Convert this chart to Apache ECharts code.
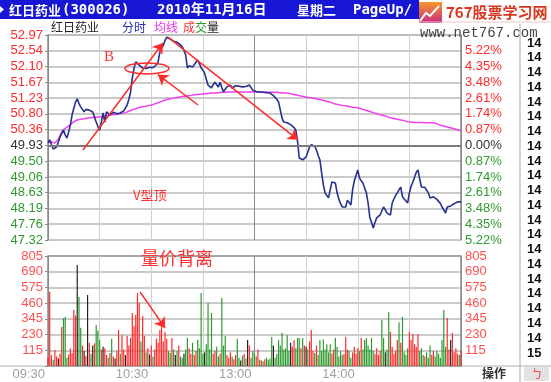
<!DOCTYPE html>
<html><head><meta charset="utf-8">
<script src="https://cdn.jsdelivr.net/npm/echarts@6/dist/echarts.min.js"></script>
<style>html,body{margin:0;padding:0;background:#fff}#c{width:551px;height:382px}</style>
</head><body><div id="c"></div>
<script>
// ---- data (minute by minute, 09:30 .. 15:00) ----
const price = [
50.00,50.08,49.95,49.83,49.86,49.88,50.02,50.16,50.25,50.35,
50.22,50.13,50.30,50.49,50.77,50.95,51.12,51.21,51.08,50.99,
50.96,50.85,50.92,50.96,50.90,50.88,50.85,50.82,50.57,50.45,
50.35,50.57,50.82,50.57,50.85,50.80,50.77,50.80,50.84,50.82,
50.80,50.83,50.82,50.86,50.88,50.90,51.04,51.20,51.40,51.79,
52.05,52.23,52.28,52.14,52.10,52.06,52.09,52.05,52.06,52.08,
52.09,52.07,52.09,52.15,52.23,52.50,52.60,52.69,52.82,52.91,
52.89,52.86,52.83,52.80,52.78,52.77,52.75,52.70,52.64,52.55,
52.42,52.06,52.12,52.14,52.09,52.15,52.22,52.28,52.18,52.06,
52.00,51.92,51.75,51.59,51.55,51.51,51.60,51.67,51.60,51.54,
51.67,51.52,51.40,51.48,51.54,51.57,51.59,51.51,51.55,51.57,
51.59,51.56,51.55,51.54,51.57,51.55,51.54,51.59,51.52,51.45,
51.42,
51.41,51.40,51.40,51.42,51.39,51.40,51.38,51.38,51.37,
51.33,51.30,51.26,51.20,51.12,50.90,50.68,50.57,50.56,50.55,
50.52,50.50,50.49,50.42,50.35,50.05,49.58,49.55,49.53,49.57,
49.61,49.75,49.88,49.95,49.99,49.90,49.80,49.65,49.53,49.17,
48.85,48.62,48.55,48.48,48.70,48.92,48.90,48.89,48.62,48.45,
48.32,48.23,48.25,48.23,48.42,48.35,48.28,48.70,48.95,49.10,
49.25,49.03,48.95,48.89,48.75,48.62,48.34,47.95,47.80,47.65,
47.80,47.93,47.98,48.01,48.12,48.23,48.15,48.06,48.03,48.01,
48.34,48.45,48.55,48.62,48.70,48.78,48.51,48.45,48.40,48.34,
48.62,48.80,48.92,49.05,49.19,49.25,49.00,48.78,48.76,48.77,
48.75,48.62,48.48,48.50,48.51,48.47,48.44,48.42,48.33,48.23,
48.15,48.06,48.23,48.27,48.26,48.29,48.32,48.35,48.37,48.36,48.37
];
const avgPrice = [
50.00,50.05,50.03,49.99,49.99,50.02,50.10,50.20,50.30,50.36,
50.40,50.43,50.46,50.50,50.55,50.58,50.60,50.63,50.64,50.65,
50.66,50.66,50.67,50.68,50.68,50.69,50.69,50.70,50.70,50.71,
50.71,50.72,50.73,50.74,50.74,50.75,50.76,50.77,50.77,50.78,
50.78,50.79,50.80,50.81,50.82,50.83,50.85,50.87,50.89,50.91,
50.93,50.94,50.96,50.97,50.98,50.99,51.00,51.01,51.02,51.03,
51.04,51.05,51.07,51.09,51.11,51.12,51.14,51.16,51.18,51.19,
51.20,51.21,51.22,51.23,51.24,51.25,51.26,51.27,51.28,51.28,
51.29,51.29,51.30,51.30,51.31,51.32,51.32,51.33,51.33,51.34,
51.34,51.35,51.35,51.36,51.36,51.37,51.37,51.37,51.38,51.38,
51.38,51.39,51.39,51.39,51.39,51.40,51.40,51.40,51.40,51.40,
51.40,51.40,51.40,51.40,51.40,51.40,51.40,51.40,51.40,51.40,
51.40,51.40,51.40,51.40,51.40,51.40,51.40,51.40,51.40,51.39,
51.39,51.39,51.39,51.39,51.38,51.38,51.38,51.37,51.37,51.37,
51.36,51.35,51.34,51.33,51.32,51.31,51.30,51.29,51.28,51.27,
51.26,51.25,51.24,51.24,51.23,51.22,51.21,51.20,51.19,51.18,
51.18,51.16,51.15,51.13,51.12,51.10,51.09,51.07,51.06,51.05,
51.04,51.03,51.03,51.02,51.01,51.00,50.99,50.98,50.98,50.97,
50.96,50.95,50.93,50.92,50.90,50.89,50.88,50.86,50.85,50.83,
50.82,50.80,50.79,50.77,50.76,50.75,50.73,50.72,50.70,50.69,
50.68,50.67,50.66,50.65,50.64,50.63,50.62,50.61,50.60,50.58,
50.57,50.57,50.57,50.56,50.56,50.56,50.56,50.56,50.55,50.55,
50.55,50.55,50.55,50.55,50.55,50.54,50.52,50.50,50.48,50.47,
50.46,50.45,50.44,50.42,50.41,50.40,50.39,50.37,50.35,50.34,50.33
];
const volume = [
60,544,80,45,117,70,55,90,285,351,
359,60,85,130,95,410,370,740,505,280,
150,110,75,520,170,90,150,165,300,260,
190,120,140,130,80,60,95,200,70,55,
110,263,90,225,120,80,220,150,205,388,
290,375,534,461,180,365,220,100,130,85,
150,70,120,200,170,263,290,180,250,200,
110,95,205,120,80,110,150,70,60,90,
120,205,130,90,170,80,110,190,130,534,
90,100,160,461,120,388,90,110,140,70,
90,498,150,220,80,60,100,70,50,80,
200,60,40,75,90,55,190,150,60,110,
95,70,120,45,40,35,50,60,45,55,
212,150,60,90,190,150,242,120,130,225,
110,170,140,190,130,205,205,130,205,150,
140,120,180,263,110,95,150,80,190,110,
195,120,160,100,160,90,120,205,140,70,
110,80,90,212,120,110,60,100,140,90,
130,110,205,120,190,205,150,120,205,110,
90,130,80,110,337,205,100,120,395,250,
140,90,110,190,320,170,359,100,80,130,
250,190,235,160,140,235,110,130,80,70,
100,60,150,80,110,70,110,90,60,190,
410,140,351,120,190,242,100,130,90,80,110
];
// 1 = up (red), -1 = down (green), 0 = unchanged (black)
const volDir = [
1,1,1,-1,1,1,0,1,1,-1,
-1,-1,1,1,1,1,1,0,-1,-1,
1,0,1,0,1,-1,0,1,-1,-1,
-1,1,0,1,1,-1,1,-1,1,0,
1,1,-1,1,1,0,1,1,1,1,
1,1,1,1,-1,1,1,-1,1,0,
1,-1,1,1,1,1,1,1,1,1,
-1,-1,1,-1,0,-1,1,-1,-1,0,
-1,-1,1,1,-1,1,1,-1,-1,-1,
-1,0,-1,-1,-1,-1,1,1,-1,-1,
1,-1,-1,-1,1,1,1,-1,1,1,
-1,-1,0,-1,1,-1,0,1,-1,-1,
-1,1,1,-1,1,-1,1,-1,-1,-1,
-1,0,-1,-1,-1,-1,-1,-1,-1,-1,
-1,0,1,1,-1,-1,-1,1,-1,1,
0,-1,1,1,1,-1,1,-1,-1,-1,
-1,-1,-1,-1,-1,1,1,-1,-1,-1,
-1,-1,1,1,1,-1,-1,1,1,1,
1,-1,1,-1,-1,-1,-1,-1,-1,-1,
1,1,1,1,-1,-1,0,-1,-1,1,
1,1,1,1,-1,1,-1,-1,-1,-1,
1,1,1,1,1,1,-1,-1,-1,1,
-1,-1,-1,1,1,-1,-1,-1,-1,-1,
-1,-1,1,1,0,1,1,1,1,-1,1
];
// tick labels, listed from the bottom tick upwards
const priceTicks = ['47.32','47.76','48.19','48.63','49.06','49.50','49.93','50.36','50.80','51.23','51.67','52.10','52.54','52.97'];
const pctTicks = ['5.22%','4.35%','3.48%','2.61%','1.74%','0.87%','0.00%','0.87%','1.74%','2.61%','3.48%','4.35%','5.22%',''];
const volTicks = ['','115','230','345','460','575','690','805'];
const timeTicks = {0:'09:30',60:'10:30',120:'13:00',180:'14:00'};
const tickColumn = ['14','14','14','14','14','14','14','14','14','14','14','14','14','14','14','14','14','14','14','14','14','15'];
const prevClose = 49.93;

// ---- chart ----
const P_MIN = 47.32, P_MAX = 52.97, P_STEP = (P_MAX - P_MIN) / 13;
const RED = '#ff2b2b', GREEN = '#2f9a2f', DARK = '#333333';
const pIdx = v => Math.round((v - P_MIN) / P_STEP);
const numFont = 'Liberation Sans';

const chart = echarts.init(document.getElementById('c'), null, {renderer: 'canvas'});

const vSplit = ['#8a8a8a','#d0d0d0','#d0d0d0','#d0d0d0','#8a8a8a','#d0d0d0','#d0d0d0','#d0d0d0','#8a8a8a'];
const baseX = {type: 'value', min: 0, max: 240, interval: 30,
  axisTick: {show: false},
  splitLine: {show: true, lineStyle: {color: vSplit, width: 1}}};
const arrowPair = (a, b) => [{coord: a, symbol: 'none'}, {coord: b, symbol: 'arrow', symbolSize: 10}];

const option = {
  animation: false,
  backgroundColor: '#ffffff',
  grid: [
    {left: 48, right: 90, top: 35, height: 205},
    {left: 48, right: 90, top: 256, height: 110}
  ],
  xAxis: [
    Object.assign({}, baseX, {gridIndex: 0, axisLine: {show: false}, axisLabel: {show: false}}),
    Object.assign({}, baseX, {gridIndex: 1, axisLine: {show: true, lineStyle: {color: '#aaaaaa'}},
      axisLabel: {show: true, margin: 2, align: 'right', padding: [0, 3, 0, 0],
        color: '#a0a0a0', fontSize: 13, fontFamily: numFont,
        formatter: v => timeTicks[v] || ''}})
  ],
  yAxis: [
    {gridIndex: 0, type: 'value', min: P_MIN, max: P_MAX, interval: P_STEP, position: 'left',
      axisLine: {show: true, lineStyle: {color: '#8a8a8a', width: 1.5}},
      axisTick: {show: true, length: 3, lineStyle: {color: '#8a8a8a'}},
      axisLabel: {margin: 5, fontSize: 13, fontFamily: numFont,
        formatter: v => priceTicks[pIdx(v)] || '',
        color: v => { const i = pIdx(v); return i > 6 ? RED : (i === 6 ? DARK : GREEN); }},
      splitLine: {show: true, lineStyle: {color: '#b9b9b9', width: 1.5}}},
    {gridIndex: 0, type: 'value', min: P_MIN, max: P_MAX, interval: P_STEP, position: 'right',
      axisLine: {show: true, lineStyle: {color: '#8a8a8a', width: 1.5}},
      axisTick: {show: false},
      axisLabel: {margin: 4, fontSize: 13, fontFamily: numFont,
        formatter: v => pctTicks[pIdx(v)] || '',
        color: v => { const i = pIdx(v); return i > 6 ? RED : (i === 6 ? DARK : GREEN); }},
      splitLine: {show: false}},
    {gridIndex: 1, type: 'value', min: 0, max: 805, interval: 115, position: 'left',
      axisLine: {show: true, lineStyle: {color: '#8a8a8a', width: 1.5}},
      axisTick: {show: true, length: 3, lineStyle: {color: '#8a8a8a'}},
      axisLabel: {margin: 5, fontSize: 13, fontFamily: numFont, color: '#ff5050',
        formatter: v => volTicks[Math.round(v / 115)] || ''},
      splitLine: {show: true, lineStyle: {color: ['#b9b9b9','#b9b9b9','#b9b9b9','#b9b9b9','#b9b9b9','#b9b9b9','#b9b9b9','#888888'], width: 1.5}}},
    {gridIndex: 1, type: 'value', min: 0, max: 805, interval: 115, position: 'right',
      axisLine: {show: true, lineStyle: {color: '#8a8a8a', width: 1.5}},
      axisTick: {show: false},
      axisLabel: {margin: 4, fontSize: 13, fontFamily: numFont, color: '#ff5050',
        formatter: v => volTicks[Math.round(v / 115)] || ''},
      splitLine: {show: false}}
  ],
  series: [
    {name: '均线', type: 'line', xAxisIndex: 0, yAxisIndex: 0, showSymbol: false, z: 3,
      data: avgPrice.map((v, i) => [i, v]),
      lineStyle: {color: '#ee40ee', width: 1.5}},
    {name: '分时', type: 'line', xAxisIndex: 0, yAxisIndex: 0, showSymbol: false, z: 4,
      data: price.map((v, i) => [i, v]),
      lineStyle: {color: '#24318f', width: 1.6},
      markLine: {silent: true, symbol: 'none', z: 6,
        label: {show: false},
        lineStyle: {color: '#ff2a2a', width: 1.5, type: 'solid'},
        data: [
          {yAxis: prevClose, lineStyle: {color: '#7a7a7a', width: 2}},
          arrowPair([20.3, 49.80], [66.8, 52.75]),
          arrowPair([87.2, 51.04], [63.9, 51.88]),
          arrowPair([69.7, 52.91], [145.3, 50.08])
        ]}},
    {name: '成交量', type: 'bar', xAxisIndex: 1, yAxisIndex: 2, barWidth: 1.2,
      data: volume.map((v, i) => [i, v]),
      itemStyle: {color: p => volDir[p.dataIndex] > 0 ? RED : (volDir[p.dataIndex] < 0 ? GREEN : '#222222')},
      markLine: {silent: true, symbol: 'none', z: 6,
        label: {show: false},
        lineStyle: {color: '#ff2a2a', width: 1.5, type: 'solid'},
        data: [arrowPair([53.5, 542], [68, 278])]}}
  ]
};
chart.setOption(option);

// ---- annotations and frame texts ----
const at = (s, x, y) => chart.convertToPixel({seriesIndex: s}, [x, y]);
const pB = at(1, 35.4, 52.36), pE = at(1, 57.5, 52.05), pV = at(1, 49.4, 48.56), pQ = at(2, 75, 790);
const cjk = 'Noto Sans CJK SC';
const g = [
  // header bar
  {type: 'rect', shape: {x: 0, y: 0, width: 419, height: 19}, style: {fill: '#1616d4'}},
  {type: 'polygon', shape: {points: [[0, 6], [4, 9.5], [0, 13]]}, style: {fill: '#ffffff'}},
  {type: 'text', x: 9, y: 10, style: {text: '红日药业', fill: '#fff', font: 'bold 13px "' + cjk + '"', verticalAlign: 'middle'}},
  {type: 'text', x: 62, y: 10, style: {text: '(300026)', fill: '#fff', font: 'bold 14px "DejaVu Sans Mono"', verticalAlign: 'middle'}},
  {type: 'text', x: 157, y: 10, style: {text: '2010年11月16日', fill: '#fff', font: 'bold 14px "DejaVu Sans Mono","' + cjk + '"', verticalAlign: 'middle'}},
  {type: 'text', x: 297, y: 10, style: {text: '星期二', fill: '#fff', font: 'bold 13px "' + cjk + '"', verticalAlign: 'middle'}},
  {type: 'text', x: 353, y: 10, style: {text: 'PageUp/', fill: '#fff', font: 'bold 14px "DejaVu Sans Mono"', verticalAlign: 'middle'}},
  // logo
  {type: 'rect', shape: {x: 419, y: 2, width: 23, height: 21},
    style: {fill: new echarts.graphic.LinearGradient(0, 0, 0, 1, [{offset: 0, color: '#f59a2a'}, {offset: 1, color: '#c82a86'}])}},
  {type: 'polyline', shape: {points: [[420, 21], [426, 13], [430, 16], [439, 6]]}, style: {stroke: '#ffffff', lineWidth: 2, fill: null}},
  {type: 'text', x: 446, y: 12, style: {text: '767股票学习网', fill: '#d8351c', font: 'bold 15px "' + cjk + '"', verticalAlign: 'middle'}},
  {type: 'line', shape: {x1: 419, y1: 22, x2: 551, y2: 22}, style: {stroke: '#f3c4c4', lineWidth: 1}},
  {type: 'text', x: 420, y: 33, style: {text: 'www.net767.com', fill: '#444', font: '14px "Liberation Mono"', verticalAlign: 'middle'}},
  // second row legend
  {type: 'text', x: 51, y: 27, style: {text: '红日药业', fill: '#222', font: '12px "' + cjk + '"', verticalAlign: 'middle'}},
  {type: 'text', x: 122, y: 27, style: {text: '分时', fill: '#2a2ab8', font: '12px "' + cjk + '"', verticalAlign: 'middle'}},
  {type: 'text', x: 154, y: 27, style: {text: '均线', fill: '#ee33ee', font: '12px "' + cjk + '"', verticalAlign: 'middle'}},
  {type: 'text', x: 183, y: 27, style: {text: '成', fill: '#ff3030', font: '12px "' + cjk + '"', verticalAlign: 'middle'}},
  {type: 'text', x: 195, y: 27, style: {text: '交', fill: '#2f9a2f', font: '12px "' + cjk + '"', verticalAlign: 'middle'}},
  {type: 'text', x: 207, y: 27, style: {text: '量', fill: '#222', font: '12px "' + cjk + '"', verticalAlign: 'middle'}},
  // right panel frame
  {type: 'line', shape: {x1: 520, y1: 24, x2: 520, y2: 382}, style: {stroke: '#a8a8a8', lineWidth: 1}},
  {type: 'line', shape: {x1: 0, y1: 366, x2: 551, y2: 366}, style: {stroke: '#b0b0b0', lineWidth: 1}},
  {type: 'text', x: 494, y: 373, style: {text: '操作', fill: '#333', font: 'bold 12px "' + cjk + '"', align: 'center', verticalAlign: 'middle'}},
  {type: 'rect', shape: {x: 524, y: 367, width: 25, height: 14}, style: {fill: '#e2e2e2'}},
  {type: 'text', x: 537, y: 374, style: {text: 'ㄅ', fill: '#ff2a2a', font: '11px "' + cjk + '"', align: 'center', verticalAlign: 'middle'}},
  // annotations
  {type: 'text', x: pB[0], y: pB[1], z: 20, style: {text: 'B', fill: '#ff3030', font: '15px "Liberation Serif"', align: 'center', verticalAlign: 'middle'}},
  {type: 'ellipse', z: 20, shape: {cx: pE[0], cy: pE[1], rx: 22, ry: 5.5}, style: {fill: null, stroke: '#ff2a2a', lineWidth: 1.5}},
  {type: 'text', x: pV[0], y: pV[1], z: 20, style: {text: 'V型顶', fill: '#ff3030', font: '13px "' + cjk + '"', verticalAlign: 'middle'}},
  {type: 'text', x: pQ[0], y: pQ[1], z: 20, style: {text: '量价背离', fill: '#ff3030', font: '18px "' + cjk + '"', align: 'center', verticalAlign: 'middle'}}
];
tickColumn.forEach((t, k) => {
  g.push({type: 'text', x: 527, y: 43 + k * 14.76, style: {text: t, fill: '#111', font: 'bold 13px "' + numFont + '"', verticalAlign: 'middle'}});
});
chart.setOption({graphic: g});
</script>
</body></html>
